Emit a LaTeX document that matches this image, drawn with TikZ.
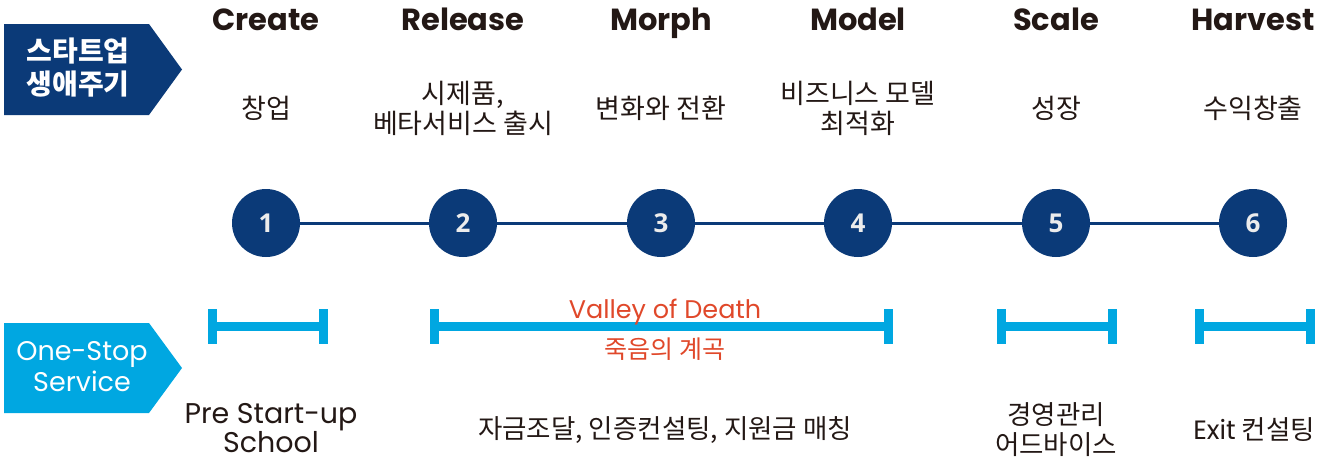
\documentclass[tikz,border=0pt]{standalone}
\usepackage{fontspec}
\setmainfont{Noto Sans CJK KR}
\newfontfamily\en{Poppins}
\newfontfamily\num{Open Sans}
\usetikzlibrary{positioning}
\definecolor{navy}{HTML}{0B3A78}
\definecolor{sky}{HTML}{00A7E1}
\definecolor{ink}{HTML}{231815}
\definecolor{death}{HTML}{E0482A}
\definecolor{numgrey}{HTML}{ECECEC}
\tikzset{
	phase/.style={text=ink, anchor=base, inner sep=0pt, font=\en\bfseries\fontsize{30.5}{32}\selectfont},
	stage/.style={text=ink, align=center, inner sep=0pt, font=\fontsize{27}{30}\selectfont},
	stepdot/.style={circle, fill=navy, minimum size=68pt, inner sep=0pt, text=numgrey, font=\num\bfseries\fontsize{26}{26}\selectfont},
	service/.style={text=ink, align=center, inner sep=0pt, font=\fontsize{26.5}{30}\selectfont},
	spanbar/.style={sky, line width=9pt},
	banner/.style={text=white, align=center, inner sep=0pt}
}
\begin{document}
\begin{tikzpicture}[x=1pt,y=-1pt]
	\useasboundingbox (0,0) rectangle (1324,461);
	% left banners
	\fill[navy] (4,24) -- (149,24) -- (182,69.5) -- (149,115) -- (4,115) -- cycle;
	\node[banner, font=\bfseries\fontsize{28}{33}\selectfont] (cycle) at (78,68) {스타트업\\생애주기};
	\fill[sky] (4,323) -- (149,323) -- (182,368) -- (149,413) -- (4,413) -- cycle;
	\node[banner, font=\en\fontsize{27}{31}\selectfont] (onestop) at (82,367) {One-Stop\\Service};
	% stages
	\foreach \i/\x/\head/\sub in {1/266/Create/{창업}, 2/463/Release/{시제품,\\베타서비스 출시}, 3/661/Morph/{변화와 전환}, 4/858/Model/{비즈니스 모델\\최적화}, 5/1056/Scale/{성장}, 6/1253/Harvest/{수익창출}} {
		\node[phase] (h\i) at (\x,30) {\head};
		\node[stage] (t\i) at (\x,108) {\sub};
		\node[stepdot] (d\i) at (\x,223) {\i};
	}
	\foreach \i [count=\j from 2] in {1,...,5}
		\draw[navy, line width=3pt] (d\i) -- (d\j);
	% services
	\foreach \n/\a/\b in {pre/212.5/323.5, vod/434.5/888.5, mgmt/1001.5/1112.5, exit/1199.5/1310.5} {
		\coordinate (\n l) at (\a,326.5);
		\coordinate (\n r) at (\b,326.5);
		\draw[spanbar] (\n l) -- (\n r);
		\draw[spanbar] ([yshift=17.5pt]\n l) -- ([yshift=-17.5pt]\n l);
		\draw[spanbar] ([yshift=17.5pt]\n r) -- ([yshift=-17.5pt]\n r);
	}
	\node[text=death, anchor=base, inner sep=0pt, font=\en\fontsize{25.5}{28}\selectfont] (valley) at (665,318) {Valley of Death};
	\node[text=death, inner sep=0pt, font=\fontsize{25}{28}\selectfont, below=13pt of valley] (valleykr) {죽음의 계곡};
	\node[service, font=\en\fontsize{28.5}{29}\selectfont] (school) at (271,428) {Pre Start-up\\School};
	\node[service] (fund) at (665,430) {자금조달, 인증컨설팅, 지원금 매칭};
	\node[service] (advice) at (1056,430) {경영관리\\어드바이스};
	\node[service] (exitc) at (1254,430) {{\en Exit} 컨설팅};
\end{tikzpicture}
\end{document}
